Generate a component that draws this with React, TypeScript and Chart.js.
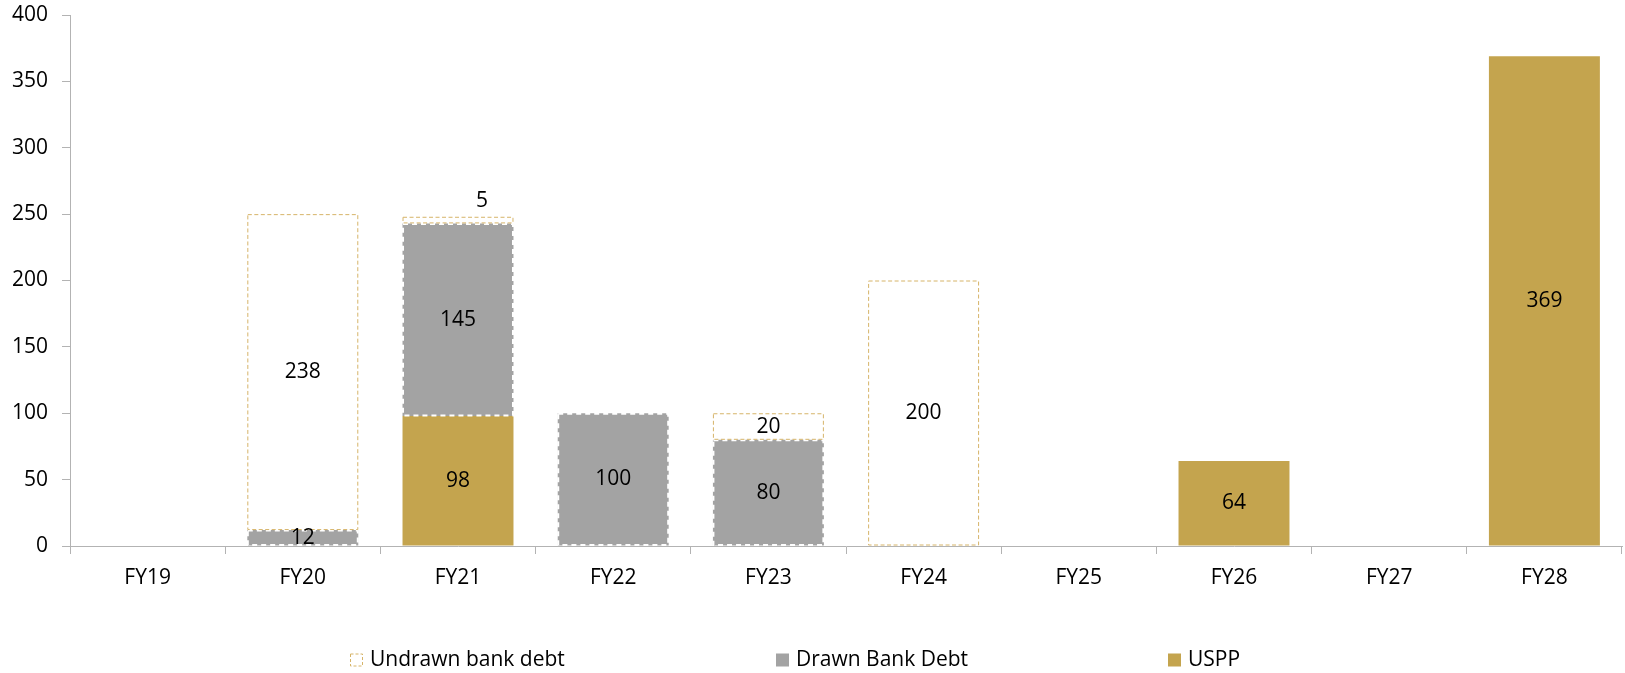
import React, { useEffect, useRef } from "react";
import { Chart, registerables } from "chart.js";

Chart.register(...registerables);

const categories = ["FY19", "FY20", "FY21", "FY22", "FY23", "FY24", "FY25", "FY26", "FY27", "FY28"];
const undrawnBankDebt = [0, 238, 5, 0, 20, 200, 0, 0, 0, 0];
const drawnBankDebt = [0, 12, 145, 100, 80, 0, 0, 0, 0, 0];
const usppDebt = [0, 0, 98, 0, 0, 0, 0, 64, 0, 369];
const seriesNames = ["Undrawn bank debt", "Drawn Bank Debt", "USPP"];
const yMin = 0;
const yMax = 400;
const yStep = 50;

const GOLD = "#C4A44E";
const GRAY = "#A3A3A3";
const TAN = "#D6B469";
const AXIS = "#B3B3B3";
const FONT = "'Open Sans', sans-serif";
const FONT_SIZE = 21;

const dashedBordersPlugin = {
  id: "dashedBorders",
  afterDatasetsDraw(chart: any) {
    const ctx = chart.ctx;
    chart.data.datasets.forEach((ds: any, i: number) => {
      const style = ds.dashStyle;
      if (!style) return;
      const meta = chart.getDatasetMeta(i);
      meta.data.forEach((el: any, j: number) => {
        const v = ds.data[j];
        if (!v) return;
        const p = el.getProps(["x", "y", "base", "width"], true);
        const top = Math.min(p.y, p.base);
        const h = Math.abs(p.base - p.y);
        ctx.save();
        ctx.setLineDash(style.dash);
        ctx.strokeStyle = style.color;
        ctx.lineWidth = style.width;
        ctx.strokeRect(p.x - p.width / 2 + 0.5, top + 0.5, p.width - 1, h - 1);
        ctx.restore();
      });
    });
  },
};

const valueLabelsPlugin = {
  id: "valueLabels",
  afterDatasetsDraw(chart: any) {
    const ctx = chart.ctx;
    ctx.save();
    ctx.font = `${FONT_SIZE}px ${FONT}`;
    ctx.fillStyle = "#000";
    ctx.textAlign = "center";
    ctx.textBaseline = "middle";
    chart.data.datasets.forEach((ds: any, i: number) => {
      const meta = chart.getDatasetMeta(i);
      meta.data.forEach((el: any, j: number) => {
        const v = ds.data[j];
        if (!v) return;
        const p = el.getProps(["x", "y", "base"], true);
        const h = Math.abs(p.base - p.y);
        if (h < 10) {
          ctx.fillText(String(v), p.x + 24, Math.min(p.y, p.base) - 16);
        } else {
          ctx.fillText(String(v), p.x, (p.y + p.base) / 2);
        }
      });
    });
    ctx.restore();
  },
};

const customLegendPlugin = {
  id: "customLegend",
  afterDraw(chart: any, _args: any, opts: any) {
    const ctx = chart.ctx;
    const items = opts.items || [];
    ctx.save();
    ctx.font = `${FONT_SIZE}px ${FONT}`;
    ctx.textAlign = "left";
    ctx.textBaseline = "middle";
    items.forEach((it: any) => {
      const bx = it.x;
      const by = opts.y - 6.5;
      if (it.dashed) {
        ctx.fillStyle = "#fff";
        ctx.fillRect(bx, by, 13, 13);
        ctx.setLineDash([3, 2]);
        ctx.strokeStyle = it.border;
        ctx.lineWidth = 1;
        ctx.strokeRect(bx + 0.5, by + 0.5, 12, 12);
        ctx.setLineDash([]);
      } else {
        ctx.fillStyle = it.fill;
        ctx.fillRect(bx, by, 13, 13);
      }
      ctx.fillStyle = "#000";
      ctx.fillText(it.text, bx + 20, opts.y);
    });
    ctx.restore();
  },
};

export default function App() {
  const canvasRef = useRef<HTMLCanvasElement | null>(null);

  useEffect(() => {
    if (!canvasRef.current) return;
    const chart = new Chart(canvasRef.current, {
      type: "bar",
      data: {
        labels: categories,
        datasets: [
          {
            label: seriesNames[2],
            data: usppDebt,
            backgroundColor: GOLD,
            borderWidth: 0,
          } as any,
          {
            label: seriesNames[1],
            data: drawnBankDebt,
            backgroundColor: GRAY,
            borderWidth: 0,
            dashStyle: { color: "#FFFFFF", width: 2, dash: [5, 4] },
          } as any,
          {
            label: seriesNames[0],
            data: undrawnBankDebt,
            backgroundColor: "#FFFFFF",
            borderWidth: 0,
            dashStyle: { color: TAN, width: 1, dash: [4, 2.5] },
          } as any,
        ],
      },
      options: {
        animation: false,
        responsive: true,
        maintainAspectRatio: false,
        datasets: {
          bar: { categoryPercentage: 1, barPercentage: 0.715 },
        },
        layout: { padding: { left: 0, right: 3, top: 15, bottom: 0 } },
        plugins: {
          legend: { display: false },
          tooltip: { enabled: false },
          customLegend: {
            y: 660,
            items: [
              { x: 350, text: seriesNames[0], dashed: true, border: TAN },
              { x: 776, text: seriesNames[1], fill: GRAY },
              { x: 1168, text: seriesNames[2], fill: GOLD },
            ],
          },
        } as any,
        scales: {
          x: {
            stacked: true,
            offset: true,
            grid: {
              offset: true,
              drawOnChartArea: false,
              drawTicks: true,
              tickLength: 8,
              color: AXIS,
            },
            border: { color: AXIS, width: 1 },
            ticks: {
              color: "#000",
              font: { family: FONT, size: FONT_SIZE },
              padding: 11,
              maxRotation: 0,
            },
            afterFit: (scale: any) => {
              scale.height = 127;
            },
          },
          y: {
            stacked: true,
            min: yMin,
            max: yMax,
            grid: {
              drawOnChartArea: false,
              drawTicks: true,
              tickLength: 8,
              color: AXIS,
            },
            border: { color: AXIS, width: 1 },
            ticks: {
              stepSize: yStep,
              color: "#000",
              font: { family: FONT, size: FONT_SIZE },
              padding: 14,
            },
            afterFit: (scale: any) => {
              scale.width = 70;
              scale.paddingTop = 0;
              scale.paddingBottom = 0;
            },
          },
        },
      } as any,
      plugins: [dashedBordersPlugin, valueLabelsPlugin, customLegendPlugin],
    });
    return () => chart.destroy();
  }, []);

  return (
    <div style={{ position: "fixed", left: 0, top: 0, width: 1625, height: 673, background: "#fff" }}>
      <canvas ref={canvasRef} />
    </div>
  );
}
